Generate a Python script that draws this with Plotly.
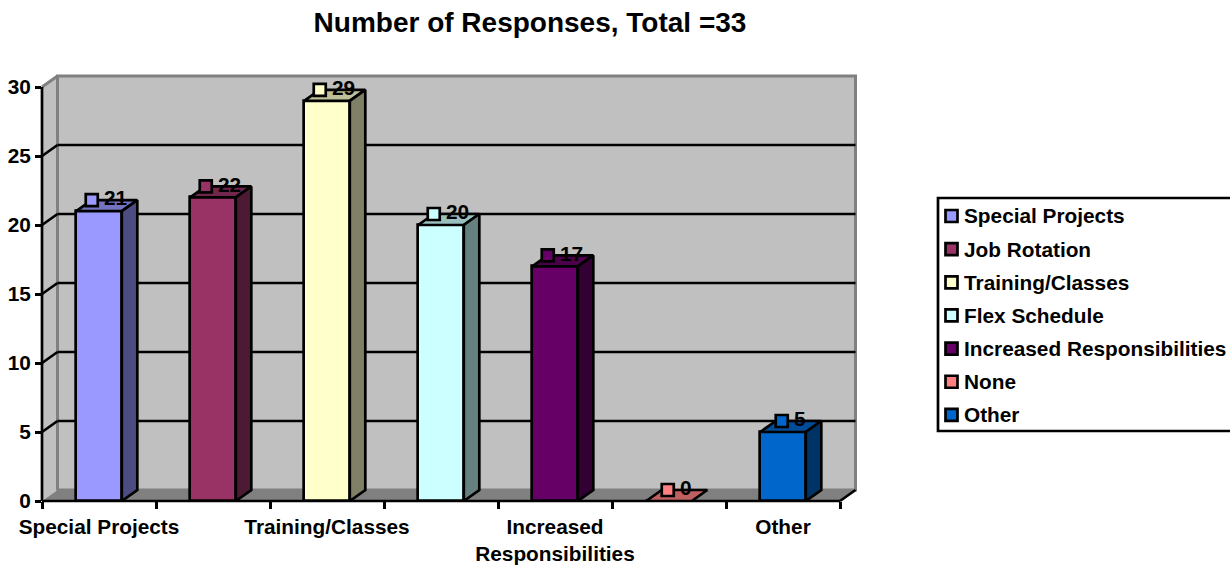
import plotly.graph_objects as go

# --- data ---
categories = ["Special Projects", "Job Rotation", "Training/Classes", "Flex Schedule",
              "Increased Responsibilities", "None", "Other"]
values = [21, 22, 29, 20, 17, 0, 5]
front_colors = ["#9999FF", "#993366", "#FFFFCC", "#CCFFFF", "#660066", "#FF8080", "#0066CC"]
top_colors = ["#7373BF", "#73264C", "#BFBF99", "#99BFBF", "#4C004C", "#BF6060", "#004C99"]
side_colors = ["#4C4C80", "#4D1A33", "#808066", "#668080", "#330033", "#804040", "#003366"]
y_ticks = [0, 5, 10, 15, 20, 25, 30]
x_tick_vals = [0, 2, 4, 6]
x_tick_text = ["Special Projects", "Training/Classes", "Increased<br>Responsibilities", "Other"]
title_text = "Number of Responses, Total =33"

# --- layout constants ---
W, H = 1230, 567
FONT = "Liberation Sans"
FS = 20.8
L, R, T, B = 42, 360, 60, 66       # plot-area margins, px
PX_PER_CAT, PX_PER_UNIT = 114.0, 13.8
DEPTH_PX_X, DEPTH_PX_Y = 15.5, 11.0
DX, DY = DEPTH_PX_X / PX_PER_CAT, DEPTH_PX_Y / PX_PER_UNIT
BAR_W = 0.4
x_lo = -0.5
x_hi = x_lo + (W - L - R) / PX_PER_CAT
y_hi = (H - T - B) / PX_PER_UNIT
n = len(categories)
x_end = x_lo + n
y_top = y_ticks[-1]


def fx(v):  # data x -> paper
    return (v - x_lo) / (x_hi - x_lo)


def fy(v):  # data y -> paper
    return v / y_hi


def path(points):
    return "M" + " L".join(f"{fx(x):.5f},{fy(y):.5f}" for x, y in points) + " Z"


def px_x(p):  # page pixel -> paper x
    return (p - L) / (W - L - R)


def px_y(p):  # page pixel -> paper y
    return (H - B - p) / (H - T - B)


GREY, WALL, LW = "#808080", "#C0C0C0", 2.7
bold = dict(family=FONT, size=FS, color="black", weight=700)
shapes = []


def poly(points, fill, line=None, width=0):
    shapes.append(dict(type="path", path=path(points), xref="paper", yref="paper", layer="below",
                       fillcolor=fill, line=dict(color=line or fill, width=width)))


def seg(p0, p1, color="black", width=LW):
    shapes.append(dict(type="line", xref="paper", yref="paper", layer="below",
                       x0=fx(p0[0]), y0=fy(p0[1]), x1=fx(p1[0]), y1=fy(p1[1]),
                       line=dict(color=color, width=width)))


# walls and floor
poly([(x_lo + DX, DY), (x_end + DX, DY), (x_end + DX, y_top + DY), (x_lo + DX, y_top + DY)], WALL, GREY, 3)
poly([(x_lo, 0), (x_lo + DX, DY), (x_lo + DX, y_top + DY), (x_lo, y_top)], WALL)
poly([(x_lo, 0), (x_end, 0), (x_end + DX, DY), (x_lo + DX, DY)], GREY)
seg((x_lo, y_top), (x_lo + DX, y_top + DY), GREY, 3)
seg((x_lo + DX, DY), (x_lo + DX, y_top + DY), GREY, 3)
for t in y_ticks[1:-1]:
    seg((x_lo, t), (x_lo + DX, t + DY))
    seg((x_lo + DX, t + DY), (x_end + DX, t + DY))
seg((x_lo, 0), (x_lo, y_top))
seg((x_lo, 0), (x_end, 0))
seg((x_end, 0), (x_end + DX, DY))

# legend box
shapes.append(dict(type="rect", xref="paper", yref="paper", layer="below",
                   x0=px_x(938), x1=px_x(1240), y0=px_y(198), y1=px_y(431),
                   fillcolor="white", line=dict(color="black", width=LW)))
annotations = []
for i, (name, col) in enumerate(zip(categories, front_colors)):
    yc = 216 + i * 33.15
    shapes.append(dict(type="rect", xref="paper", yref="paper", layer="above",
                       x0=px_x(945.5), x1=px_x(957.5), y0=px_y(yc - 6), y1=px_y(yc + 6),
                       fillcolor=col, line=dict(color="black", width=LW)))
    annotations.append(dict(text=name, xref="paper", yref="paper", x=px_x(962), y=px_y(yc),
                            xanchor="left", yanchor="middle", showarrow=False, font=bold))

fig = go.Figure()
# front faces
for i, (name, v, col) in enumerate(zip(categories, values, front_colors)):
    fig.add_trace(go.Bar(x=[i], y=[v], width=BAR_W, name=name, cliponaxis=False,
                         marker=dict(color=col, line=dict(color="black", width=LW)), showlegend=False))
# top and side faces
for i, v in enumerate(values):
    xl, xr = i - BAR_W / 2, i + BAR_W / 2
    fig.add_trace(go.Scatter(x=[xl, xr, xr + DX, xl + DX, xl], y=[v, v, v + DY, v + DY, v],
                             mode="lines", fill="toself", fillcolor=top_colors[i], cliponaxis=False,
                             line=dict(color="black", width=LW), showlegend=False, hoverinfo="skip"))
    if v > 0:
        fig.add_trace(go.Scatter(x=[xr, xr + DX, xr + DX, xr, xr], y=[0, DY, v + DY, v, 0],
                                 mode="lines", fill="toself", fillcolor=side_colors[i], cliponaxis=False,
                                 line=dict(color="black", width=LW), showlegend=False, hoverinfo="skip"))
# data labels with legend key
for i, v in enumerate(values):
    label = str(v)
    xk = i + DX / 2 - (6.0 * len(label) + 3) / PX_PER_CAT
    # text, pushed clear of the key by an invisible wider marker
    fig.add_trace(go.Scatter(x=[xk], y=[v + DY], xaxis="x2", yaxis="y",
                             mode="markers+text", text=[label], textposition="middle right",
                             textfont=bold, marker=dict(symbol="square", size=18, opacity=0),
                             cliponaxis=False, showlegend=False, hoverinfo="skip"))
    fig.add_trace(go.Scatter(x=[xk], y=[v + DY], xaxis="x2", yaxis="y", mode="markers",
                             marker=dict(symbol="square", size=12, color=front_colors[i],
                                         line=dict(color="black", width=LW)),
                             cliponaxis=False, showlegend=False, hoverinfo="skip"))

fig.update_layout(
    width=W, height=H, autosize=False,
    margin=dict(l=L, r=R, t=T, b=B, pad=0, autoexpand=False),
    paper_bgcolor="white", plot_bgcolor="rgba(0,0,0,0)",
    font=dict(family=FONT, size=FS, color="black"),
    title=dict(text=title_text, xref="container", yref="container", x=530 / W, y=1 - 22 / H,
               xanchor="center", yanchor="middle",
               font=dict(family=FONT, size=28, color="black", weight=700)),
    showlegend=False, bargap=0,
    xaxis=dict(range=[x_lo, x_hi], tickmode="array", tickvals=[x_lo + k for k in range(n + 1)],
               ticktext=[""] * (n + 1), ticks="outside", ticklen=7, tickwidth=LW, tickcolor="black",
               showgrid=False, zeroline=False, showline=False),
    xaxis2=dict(range=[x_lo, x_hi], overlaying="x", anchor="y", side="bottom", tickmode="array",
                tickvals=x_tick_vals, ticktext=x_tick_text, ticks="outside", ticklen=7,
                tickcolor="rgba(0,0,0,0)", tickwidth=1, showgrid=False, zeroline=False, showline=False,
                tickangle=0, tickfont=bold),
    yaxis=dict(range=[0, y_hi], tickmode="array", tickvals=y_ticks, ticks="outside", ticklen=6,
               tickwidth=LW, tickcolor="black", showgrid=False, zeroline=False, showline=False,
               tickfont=bold),
    shapes=shapes, annotations=annotations,
)
fig.write_html("out.html", post_script="document.body.style.margin='0';document.body.style.overflow='hidden';",
               config={"displayModeBar": False})
